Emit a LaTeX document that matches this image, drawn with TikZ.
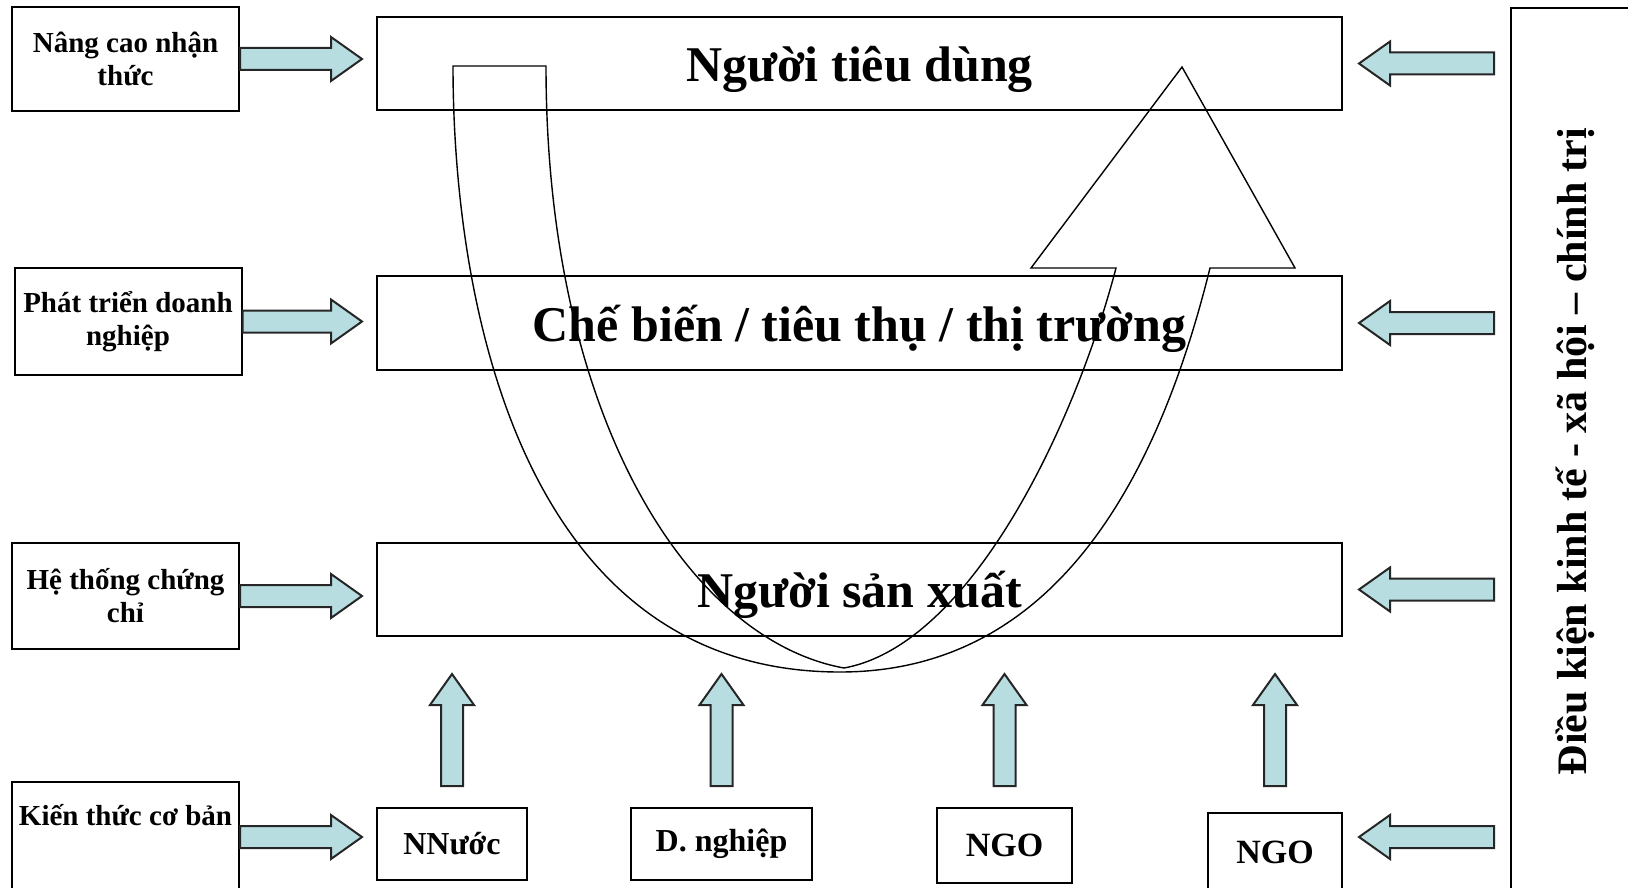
\documentclass[tikz,border=0pt]{standalone}
\usepackage{fontspec}
\setmainfont{Liberation Serif}
\usetikzlibrary{calc}

\definecolor{arrowfill}{RGB}{183,221,224}

\tikzset{
  lbox/.style={draw, line width=1pt, minimum width=113.5pt, align=center, inner xsep=0pt, inner ysep=1pt, font=\fontsize{14.5}{16.5}\selectfont\bfseries},
  mbox/.style={draw, line width=1pt, minimum width=482.5pt, minimum height=46.5pt, text depth=0pt, font=\fontsize{25}{28}\selectfont\bfseries},
  sbox/.style={draw, line width=1pt, minimum height=36pt, font=\fontsize{16}{18}\selectfont\bfseries},
  barrow/.style={draw=black!85, line width=1pt, fill=arrowfill},
  % block arrow from start to target, #1 = gap at the tail, #2 = gap at the tip
  blk/.style 2 args={to path={
    let \p1=($(\tikztostart)!#1!(\tikztotarget)$),
        \p2=($(\tikztotarget)!#2!(\tikztostart)$),
        \p3=($(\p2)!15.5pt!(\p1)$)
    in ($(\p1)!5.5pt!90:(\p2)$) -- ($(\p3)!5.5pt!-90:(\p1)$) -- ($(\p3)!11pt!-90:(\p1)$)
       -- (\p2) -- ($(\p3)!11pt!90:(\p1)$) -- ($(\p3)!5.5pt!90:(\p1)$)
       -- ($(\p1)!5.5pt!-90:(\p2)$) -- cycle}},
}

\begin{document}
\begin{tikzpicture}[x=0.5pt,y=0.5pt,yscale=-1,xscale=1]
\useasboundingbox (0,0) rectangle (1628,888);

% left boxes
\node (lb1) [lbox, minimum height=52pt] at (125.5,59) {Nâng cao nhận\\thức};
\node (lb2) [lbox, minimum height=53.5pt] at (128,321.5) {Phát triển doanh\\nghiệp};
\node (lb3) [lbox, minimum height=53pt] at (125.5,596) {Hệ thống chứng\\chỉ};
\node (lb4) [lbox, minimum height=55pt, text height=18.5pt, text depth=30.5pt, inner ysep=3pt] at (125.5,837) {Kiến thức cơ bản};

% middle boxes
\node (cons) [mbox] at (859.5,63.5) {Người tiêu dùng};
\node (proc) [mbox, minimum height=47pt] at (859.5,323) {Chế biến / tiêu thụ / thị trường};
\node (prod) [mbox] at (859.5,589.5) {Người sản xuất};

% bottom boxes
\node (nn) [sbox, minimum width=75pt] at (452,844) {NNước};
\node (dn) [sbox, minimum width=90.5pt] at (721.5,844) {D. nghiệp};
\node (ngo1) [sbox, minimum width=67.5pt, minimum height=37.5pt, font=\fontsize{17}{19}\selectfont\bfseries] at (1004.5,845.5) {NGO};
\node (ngo2) [sbox, minimum width=67pt, minimum height=39.5pt, font=\fontsize{17}{19}\selectfont\bfseries] at (1275,852.5) {NGO};

% right box, rotated text
\node (cond) [draw, line width=1pt, rotate=90, minimum width=443.5pt, minimum height=64.5pt, font=\fontsize{21}{24}\selectfont\bfseries] at (1575.5,451.5) {Điều kiện kinh tế - xã hội – chính trị};

% arrows from the left
\draw[barrow] (lb1.east) to[blk={0pt}{7pt}] (lb1.east -| cons.west);
\draw[barrow] (lb2.east) to[blk={0pt}{7pt}] (lb2.east -| proc.west);
\draw[barrow] (lb3.east) to[blk={0pt}{7pt}] (lb3.east -| prod.west);
\draw[barrow] (lb4.east) to[blk={0pt}{7pt}] (lb4.east -| nn.west);

% arrows from the right
\draw[barrow] (cond.north |- cons.east) to[blk={8pt}{8pt}] (cons.east);
\draw[barrow] (cond.north |- proc.east) to[blk={8pt}{8pt}] (proc.east);
\draw[barrow] (cond.north |- prod.east) to[blk={8pt}{8pt}] (prod.east);
\draw[barrow] (cond.north |- lb4.east) to[blk={8pt}{8pt}] (ngo2.east |- lb4.east);

% arrows from below
\draw[barrow] (nn.north) to[blk={10.5pt}{18.5pt}] (nn.north |- prod.south);
\draw[barrow] (dn.north) to[blk={10.5pt}{18.5pt}] (dn.north |- prod.south);
\draw[barrow] (ngo1.north) to[blk={10.5pt}{18.5pt}] (ngo1.north |- prod.south);
\draw[barrow] (ngo2.north) to[blk={13pt}{18.5pt}] (ngo2.north |- prod.south);

%Shape: U-turn Arrow
\draw[line width=0.7pt] (453,66) -- (546,66) .. controls (546,420) and (690,640) .. (844,668)
  .. controls (970,645) and (1074,428) .. (1116,268) -- (1031,268) -- (1182,67) -- (1295,268) -- (1210,268)
  .. controls (1160,470) and (1060,672) .. (840,672) .. controls (520,672) and (453,300) .. (453,66) -- cycle;

\end{tikzpicture}
\end{document}
